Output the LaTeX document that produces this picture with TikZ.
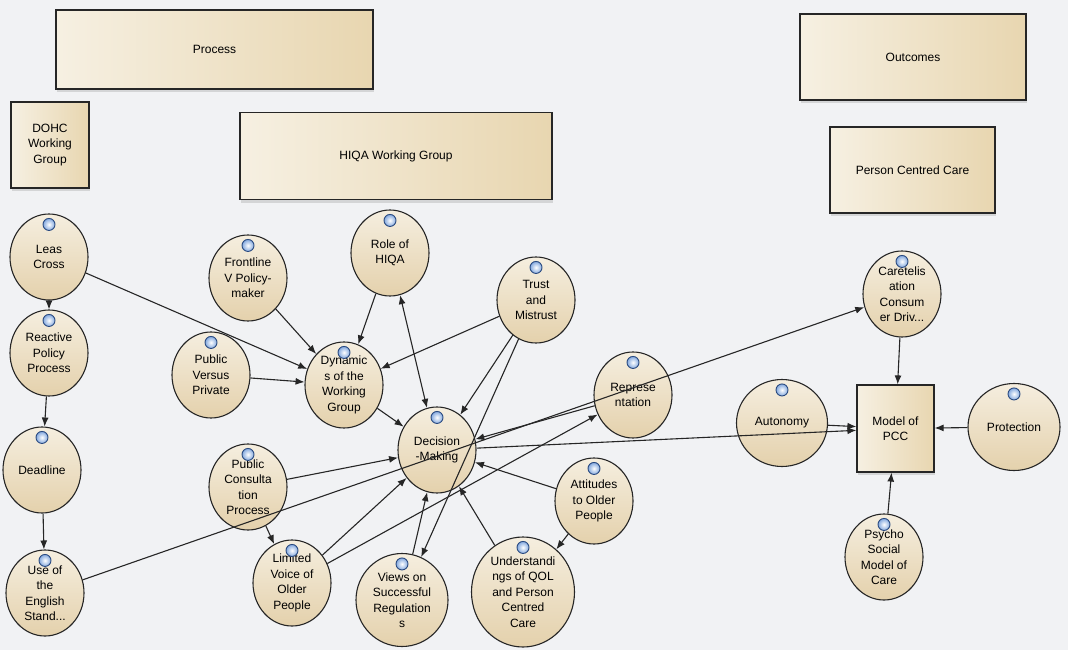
\documentclass[tikz,border=0pt]{standalone}
\usepackage{fontspec}
\setmainfont{Liberation Sans}
\usetikzlibrary{shapes.geometric,arrows.meta,shadows}
\definecolor{NodeTop}{HTML}{F5EEDF}
\definecolor{NodeBottom}{HTML}{E4D1AC}
\definecolor{BoxLeft}{HTML}{F6F0E2}
\definecolor{BoxRight}{HTML}{E8D6B0}
\definecolor{LineGray}{HTML}{262626}
\definecolor{IconBlue}{HTML}{5A8CD4}
\definecolor{IconRim}{HTML}{2A4A80}
\definecolor{BgGray}{HTML}{F1F2F4}

% small blue marker at the top of each concept circle
\newcommand{\nodeicon}[1]{%
  \shade[inner color=white, outer color=IconBlue!75] ([yshift=-11pt]#1.north) circle (6pt);
  \draw[IconRim, line width=0.9pt] ([yshift=-11pt]#1.north) circle (6pt);
}

\begin{document}
\begin{tikzpicture}[x=1pt, y=-1pt,
    concept/.style={ellipse, draw=LineGray, line width=1.1pt,
      top color=NodeTop, bottom color=NodeBottom,
      minimum width=78pt, minimum height=86pt, inner sep=0pt,
      align=center, font=\fontsize{12}{15.5}\selectfont},
    panel/.style={rectangle, draw=LineGray, line width=1.2pt,
      left color=BoxLeft, right color=BoxRight, inner sep=0pt,
      align=center, font=\fontsize{12}{15.5}\selectfont,
      drop shadow={shadow xshift=1pt, shadow yshift=-3pt, opacity=0.25, fill=gray}},
    link/.style={draw=LineGray, line width=1.1pt, -{Latex[length=9pt, width=7pt]}}]

    % =========================================
    % 1. canvas
    % =========================================
    \useasboundingbox (0,0) rectangle (1068,650);
    \fill[BgGray] (0,0) rectangle (1068,650);

    % =========================================
    % 2. header boxes
    % =========================================
    \node[panel, minimum width=317pt, minimum height=79pt] (process) at (214.5,49.5) {Process};
    \node[panel, minimum width=78pt, minimum height=86pt] (dohc) at (50,145) {DOHC\\Working\\Group};
    \node[panel, minimum width=312pt, minimum height=87pt] (hiqa) at (396,156) {HIQA Working Group};
    \node[panel, minimum width=226pt, minimum height=86pt] (outcomes) at (913,57) {Outcomes};
    \node[panel, minimum width=165pt, minimum height=86pt] (pcbox) at (912.5,170) {Person Centred Care};

    % =========================================
    % 3. concepts
    % =========================================
    % left column
    \node[concept] (leas) at (49,257) {Leas\\Cross};
    \node[concept] (reactive) at (49,353) {Reactive\\Policy\\Process};
    \node[concept] (deadline) at (42,470) {Deadline};
    \node[concept] (english) at (45,593) {Use of\\the\\English\\Stand...};

    % working group cluster
    \node[concept] (frontline) at (248,278) {Frontline\\V Policy-\\maker};
    \node[concept] (pubpriv) at (211,375) {Public\\Versus\\Private};
    \node[concept] (role) at (390,253) {Role of\\HIQA};
    \node[concept] (trust) at (536,300) {Trust\\and\\Mistrust};
    \node[concept] (dynamics) at (344,385) {Dynamic\\s of the\\Working\\Group};
    \node[concept] (decision) at (437,450) {Decision\\-Making};
    \node[concept] (consult) at (248,487) {Public\\Consulta\\tion\\Process};
    \node[concept] (voice) at (292,583) {Limited\\Voice of\\Older\\People};
    \node[concept, minimum width=92pt, minimum height=93pt] (views) at (402,600) {Views on\\Successful\\Regulation\\s};
    \node[concept, minimum width=103pt, minimum height=110pt] (qol) at (523,592) {Understandi\\ngs of QOL\\and Person\\Centred\\Care};
    \node[concept] (attitudes) at (594,501) {Attitudes\\to Older\\People};
    \node[concept] (repr) at (633,395) {Represe\\ntation};

    % outcome side
    \node[concept] (cartel) at (902,294) {Caretelis\\ation\\Consum\\er Driv...};
    \node[concept, minimum width=91pt, minimum height=87pt] (autonomy) at (782,423) {Autonomy};
    \node[panel, minimum width=77pt, minimum height=87pt, drop shadow={opacity=0}] (pcc) at (895.5,428.5) {Model of\\PCC};
    \node[concept, minimum width=92pt, minimum height=87pt] (protection) at (1014,427) {Protection};
    \node[concept] (psycho) at (884,557) {Psycho\\Social\\Model of\\Care};

    \foreach \n in {leas,reactive,deadline,english,frontline,pubpriv,role,trust,dynamics,
        decision,consult,voice,views,qol,attitudes,repr,cartel,autonomy,protection,psycho}
      {\nodeicon{\n}}

    % =========================================
    % 4. connectors
    % =========================================
    \draw[link] (leas) -- (reactive);
    \draw[link] (reactive) -- (deadline);
    \draw[link] (deadline) -- (english);
    \draw[link] (leas) -- (dynamics);
    \draw[link] (frontline) -- (dynamics);
    \draw[link] (pubpriv) -- (dynamics);
    \draw[link] (role) -- (dynamics);
    \draw[link] (trust) -- (dynamics);
    \draw[link, {Latex[length=9pt, width=7pt]}-{Latex[length=9pt, width=7pt]}] (role) -- (decision);
    \draw[link] (trust) -- (decision);
    \draw[link] (trust) -- (views);
    \draw[link] (dynamics) -- (decision);
    \draw[link] (consult) -- (decision);
    \draw[link] (consult) -- (voice);
    \draw[link] (voice) -- (decision);
    \draw[link] (voice) -- (repr);
    \draw[link] (views) -- (decision);
    \draw[link] (qol) -- (decision);
    \draw[link] (attitudes) -- (decision);
    \draw[link] (attitudes) -- (qol);
    \draw[link] (repr) -- (decision);
    \draw[link] (english) -- (cartel);
    \draw[link] (decision) -- (pcc);
    \draw[link] (autonomy) -- (pcc);
    \draw[link] (cartel) -- (pcc);
    \draw[link] (protection) -- (pcc);
    \draw[link] (psycho) -- (pcc);

\end{tikzpicture}
\end{document}
